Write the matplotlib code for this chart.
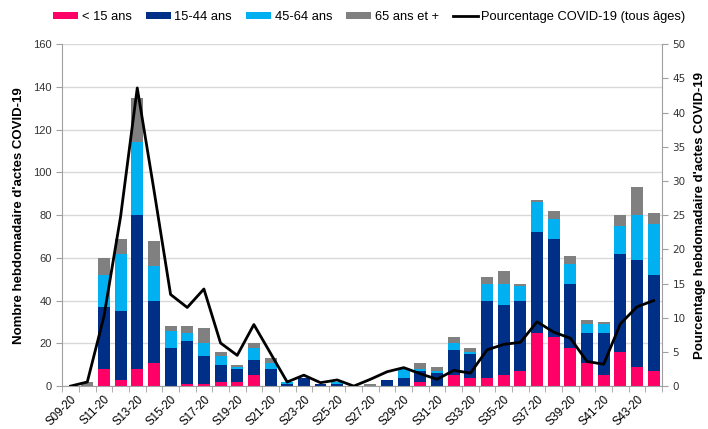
import matplotlib.pyplot as plt
import numpy as np

plt.rcParams['font.family'] = ['Liberation Sans', 'DejaVu Sans']

weeks = [f"S{w:02d}-20" for w in range(9, 45)]
moins_15 = [0, 0, 8, 3, 8, 11, 0, 1, 1, 2, 2, 5, 0, 0, 0, 0, 0, 0, 0, 0,
            0, 2, 0, 5, 4, 4, 5, 7, 25, 23, 18, 11, 5, 16, 9, 7]
ans_15_44 = [0, 0, 29, 32, 72, 29, 18, 20, 13, 8, 6, 7, 8, 1, 4, 1, 1, 0, 0, 3,
             4, 5, 6, 12, 11, 36, 33, 33, 47, 46, 30, 14, 20, 46, 50, 45]
ans_45_64 = [0, 0, 15, 27, 34, 16, 8, 4, 6, 4, 1, 6, 3, 1, 0, 0, 1, 0, 0, 0,
             4, 1, 1, 3, 1, 8, 10, 7, 14, 9, 9, 4, 4, 13, 21, 24]
ans_65_plus = [0, 2, 8, 7, 21, 12, 2, 3, 7, 2, 1, 2, 2, 0, 0, 0, 0, 0, 1, 0,
               0, 3, 2, 3, 2, 3, 6, 1, 1, 4, 4, 2, 1, 5, 13, 5]
pct_covid = [0, 0.6, 10.2, 24.8, 43.6, 28.7, 13.4, 11.5, 14.2, 6.3, 4.5, 9.0,
             4.8, 0.6, 1.6, 0.5, 0.9, 0, 1.0, 2.1, 2.7, 1.8, 1.0, 2.3, 1.9,
             5.3, 6.1, 6.4, 9.4, 7.9, 7.0, 3.6, 3.2, 9.1, 11.6, 12.5]

series = [
    ("< 15 ans", moins_15, "#FF0066"),
    ("15-44 ans", ans_15_44, "#002F87"),
    ("45-64 ans", ans_45_64, "#00B0F0"),
    ("65 ans et +", ans_65_plus, "#808080"),
]

x = np.arange(len(weeks))
fig = plt.figure(figsize=(7.08, 4.29), dpi=100)
ax = fig.add_axes([0.088, 0.1, 0.847, 0.797])

bottom = np.zeros(len(weeks))
for label, vals, color in series:
    ax.bar(x, vals, 0.72, bottom=bottom, color=color, label=label, zorder=2)
    bottom += np.array(vals)

ax.set_xlim(-0.5, len(weeks) - 0.5)
ax.set_ylim(0, 160)
ax.set_yticks(range(0, 161, 20))
ax.yaxis.grid(True, color="#D9D9D9", lw=1, zorder=0)
ax.set_axisbelow(True)
ax.tick_params(axis="y", labelsize=8, color="#A0A0A0", length=4, labelcolor="#333333")
ax.set_ylabel("Nombre hebdomadaire d'actes COVID-19", fontsize=9.5, fontweight="bold", labelpad=6)

# ticks between categories, labels every two weeks
ax.set_xticks(np.arange(-0.5, len(weeks), 1), minor=True)
ax.set_xticks(x[::2])
ax.set_xticklabels(weeks[::2], rotation=45, ha="right", rotation_mode="anchor", fontsize=8.3)
ax.tick_params(axis="x", which="major", length=0, pad=5)
ax.tick_params(axis="x", which="minor", length=4, color="#A0A0A0")

for s in ["top", "right"]:
    ax.spines[s].set_visible(False)
for s in ["left", "bottom"]:
    ax.spines[s].set_color("#A0A0A0")

ax2 = ax.twinx()
ax2.plot(x, pct_covid, color="black", lw=2, label="Pourcentage COVID-19 (tous âges)", zorder=3)
ax2.set_ylim(0, 50)
ax2.set_yticks(range(0, 51, 5))
ax2.tick_params(axis="y", labelsize=8, color="#A0A0A0", length=4, labelcolor="#333333")
for lab in ax2.get_yticklabels():
    lab.set_family("DejaVu Sans")
    lab.set_fontsize(7.5)
ax2.set_ylabel("Pourcentage hebdomadaire d'actes COVID-19", fontsize=9.5, fontweight="bold", labelpad=6)
for s in ["top", "left", "bottom"]:
    ax2.spines[s].set_visible(False)
ax2.spines["right"].set_color("#A0A0A0")

h1, l1 = ax.get_legend_handles_labels()
h2, l2 = ax2.get_legend_handles_labels()
fig.legend(h1 + h2, l1 + l2, loc="center", bbox_to_anchor=(0.522, 0.96), ncol=5,
           frameon=False, fontsize=9.3, handlelength=1.9, handleheight=0.4,
           handletextpad=0.3, columnspacing=1.1)

plt.savefig("out.png", dpi=100)
